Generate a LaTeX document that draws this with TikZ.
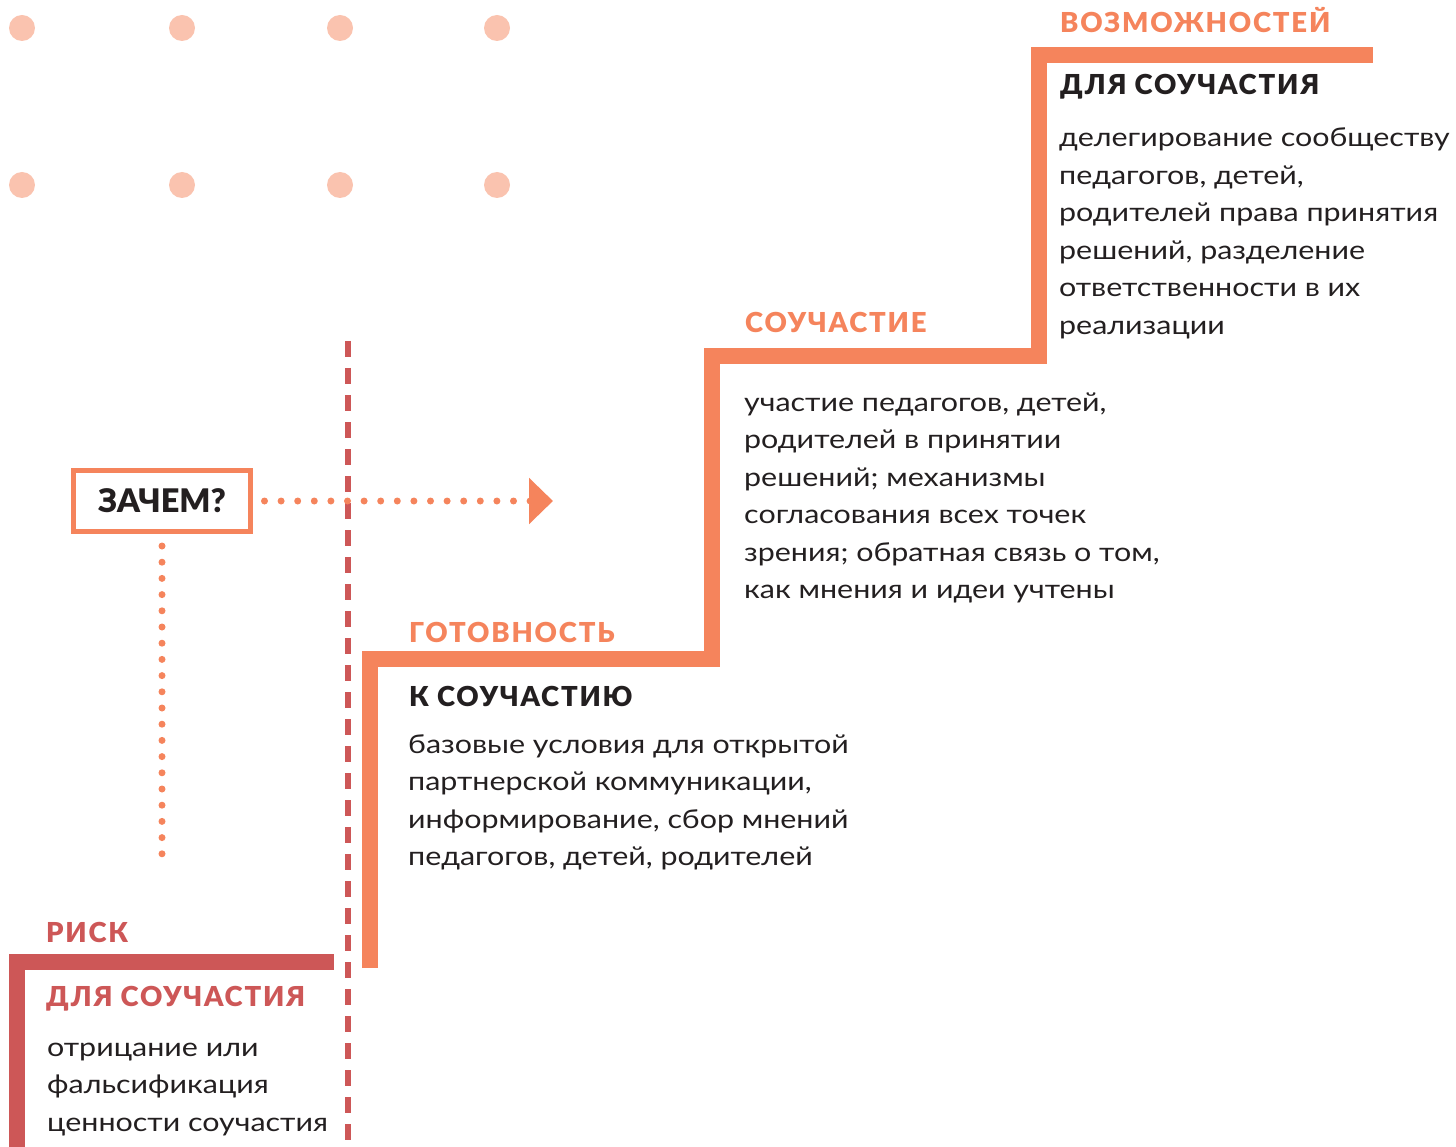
\documentclass[tikz,border=0pt]{standalone}
\usepackage{fontspec}
\setmainfont{Lato}
\newfontfamily\bodyfont[FakeStretch=1.17]{Lato}
\newfontfamily\titlefont[LetterSpace=6.5]{Lato Black}
\newfontfamily\boldfont{Lato Black}
\usetikzlibrary{arrows.meta}
\definecolor{orng}{HTML}{F5845C}
\definecolor{rred}{HTML}{CD5757}
\definecolor{dotc}{HTML}{FAC3AF}
\definecolor{ink}{HTML}{231F20}
\newcommand\lns[1]{\vtop{\baselineskip=37.5pt\lineskiplimit=-100pt #1}}
\begin{document}
\begin{tikzpicture}[x=1pt,y=-1pt,
  title/.style={anchor=base west,inner sep=0pt,font=\titlefont\fontsize{27.5}{27.5}\selectfont},
  body/.style={anchor=base west,inner sep=0pt,text=ink,font=\bodyfont\fontsize{26}{37.5}\selectfont},
  stair/.style={line width=16pt},
  dotline/.style={draw=orng,line width=7pt,line cap=round,dash pattern=on 0pt off 16.6pt},
  deco/.style={fill=dotc}]
\useasboundingbox (0,0) rectangle (1456,1147);
% decorative dots
\foreach \x in {22,182,340,497}{
  \foreach \y in {28,185}{
    \fill[deco] (\x,\y) circle (13);
  }
}
% dashed red line
\draw[rred,line width=6pt,dash pattern=on 16pt off 11pt] (348,341) -- (348,1141);
% staircase
\draw[orng,stair] (370,968) -- (370,659) -- (712,659) -- (712,356) -- (1039,356) -- (1039,55) -- (1373,55);
\draw[rred,stair] (17,1147) -- (17,962) -- (334,962);
% why box
\node[draw=orng,line width=5pt,minimum width=177pt,minimum height=61pt,inner sep=0pt,
      text=ink,font=\boldfont\fontsize{32.5}{32.5}\selectfont] (zachem) at (162,501) {ЗАЧЕМ?};
\coordinate (tip) at (553,501);
\coordinate (vend) at (162,860);
\draw[dotline,-{Triangle[length=24pt,width=45pt,fill=orng]}] ([xshift=11.5pt]zachem.east) -- (tip);
\draw[dotline,dash pattern=on 0pt off 16.2pt] ([yshift=-12pt]zachem.south) -- (vend);
% texts
\node[title,text=orng] (t1a) at (1060,33) {ВОЗМОЖНОСТЕЙ};
\node[title,text=ink] (t1b) at (1060,95) {ДЛЯ СОУЧАСТИЯ};
\node[body] (b1) at (1059,147) {\lns{\hbox{делегирование сообществу}\hbox{педагогов, детей,}\hbox{родителей права принятия}\hbox{решений, разделение}\hbox{ответственности в их}\hbox{реализации}}};
\node[title,text=orng] (t2a) at (745,333) {СОУЧАСТИЕ};
\node[body] (b2) at (744,411) {\lns{\hbox{участие педагогов, детей,}\hbox{родителей в принятии}\hbox{решений; механизмы}\hbox{согласования всех точек}\hbox{зрения; обратная связь о том,}\hbox{как мнения и идеи учтены}}};
\node[title,text=orng] (t3a) at (409,642) {ГОТОВНОСТЬ};
\node[title,text=ink] (t3b) at (409,706) {К СОУЧАСТИЮ};
\node[body] (b3) at (408,753) {\lns{\hbox{базовые условия для открытой}\hbox{партнерской коммуникации,}\hbox{информирование, сбор мнений}\hbox{педагогов, детей, родителей}}};
\node[title,text=rred] (t4a) at (46,942) {РИСК};
\node[title,text=rred] (t4b) at (46,1006) {ДЛЯ СОУЧАСТИЯ};
\node[body] (b4) at (47,1056) {\lns{\hbox{отрицание или}\hbox{фальсификация}\hbox{ценности соучастия}}};
\end{tikzpicture}
\end{document}
